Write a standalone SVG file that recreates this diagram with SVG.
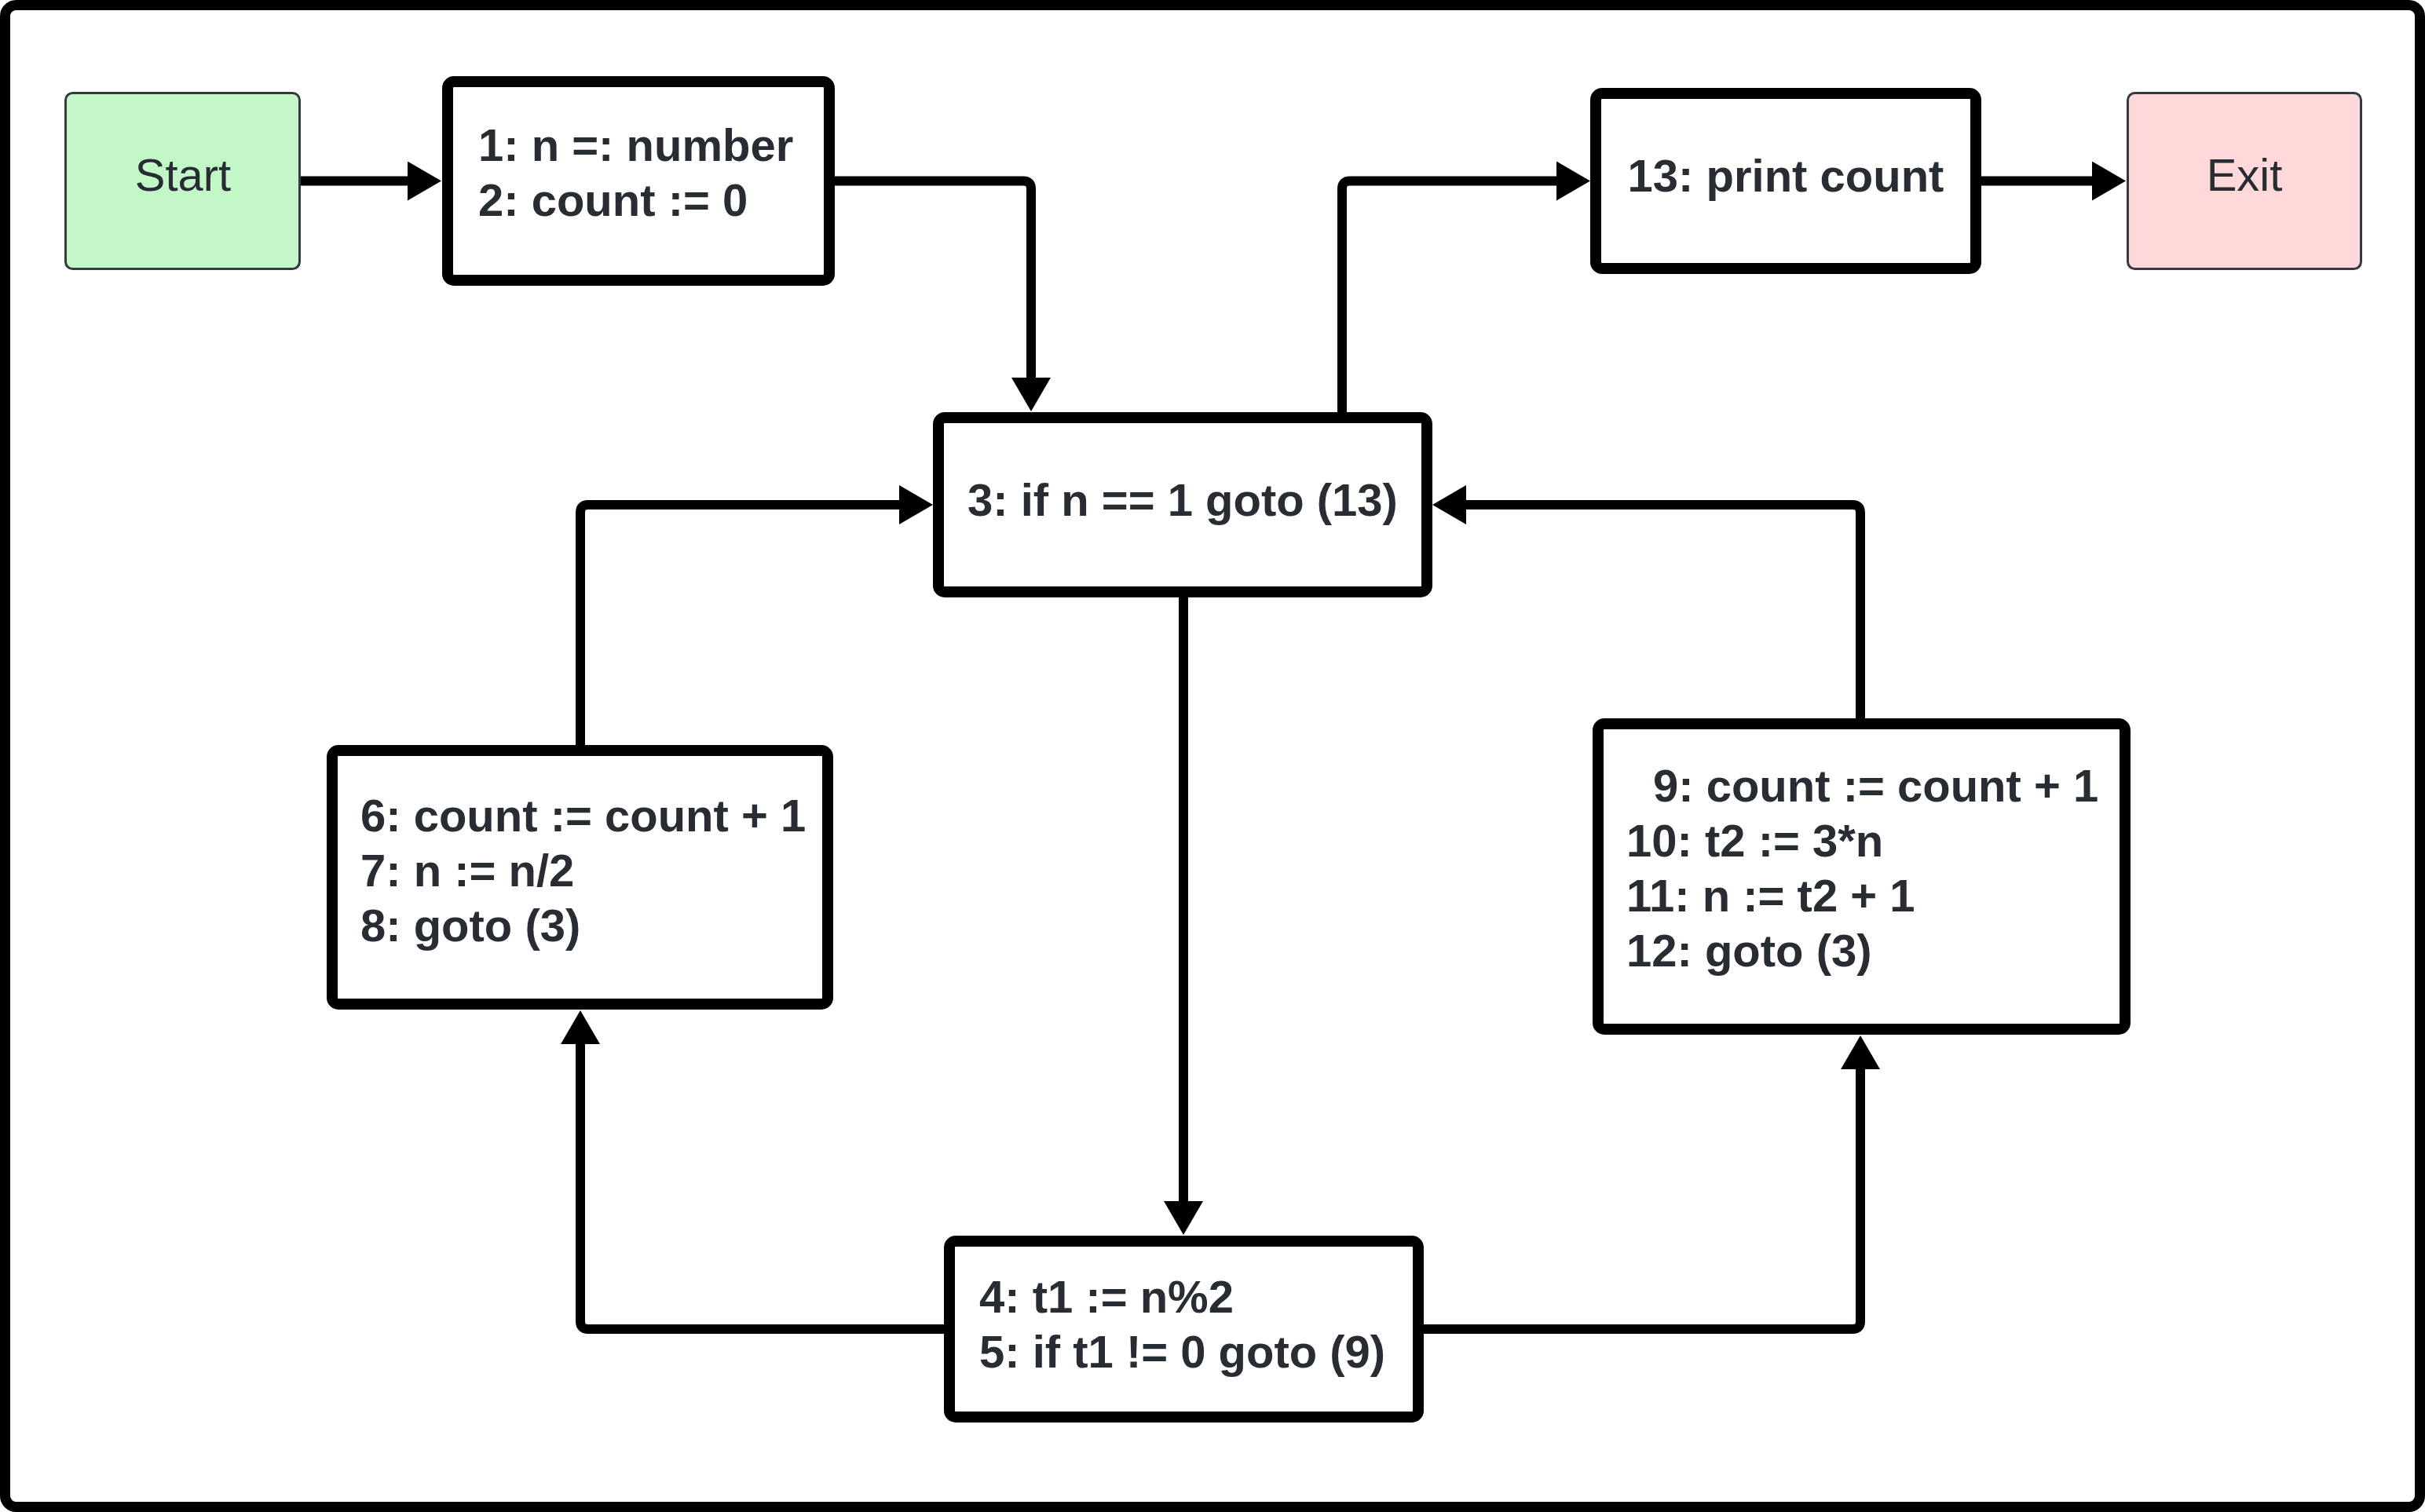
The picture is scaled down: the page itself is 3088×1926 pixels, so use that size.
<svg xmlns="http://www.w3.org/2000/svg" width="3088" height="1926" viewBox="0 0 3088 1926">
  <style>
    .frame { fill: #ffffff; stroke: #000000; stroke-width: 13; }
    .blk { fill: #ffffff; stroke: #000000; stroke-width: 14; }
    .term { stroke: #333a44; stroke-width: 3; }
    .code { font-family: "Liberation Sans", Arial, sans-serif; font-size: 58px; font-weight: bold; fill: #282c33; }
    .lbl { font-family: "Liberation Sans", Arial, sans-serif; font-size: 58px; fill: #282c33; }
    .conn { fill: none; stroke: #000000; stroke-width: 12; stroke-linejoin: round; }
  </style>
  <defs>
    <marker id="ah" markerUnits="userSpaceOnUse" viewBox="0 0 43 50" markerWidth="43" markerHeight="50" refX="0" refY="25" orient="auto">
      <path d="M0,0 L43,25 L0,50 z" fill="#000000"/>
    </marker>
  </defs>

  <rect class="frame" x="6.5" y="6.5" width="3075" height="1913" rx="14"/>

  <g id="connectors">
    <path class="conn" marker-end="url(#ah)" d="M383 230.5 H519"/>
    <path class="conn" marker-end="url(#ah)" d="M1063 230.5 H1303 Q1313 230.5 1313 240.5 V481"/>
    <path class="conn" marker-end="url(#ah)" d="M1709 525 V240.5 Q1709 230.5 1719 230.5 H1982"/>
    <path class="conn" marker-end="url(#ah)" d="M2523 230.5 H2664"/>
    <path class="conn" marker-end="url(#ah)" d="M1507 761 V1530"/>
    <path class="conn" marker-end="url(#ah)" d="M1202 1693 H749 Q739 1693 739 1683 V1330"/>
    <path class="conn" marker-end="url(#ah)" d="M739 949 V653 Q739 643 749 643 H1145"/>
    <path class="conn" marker-end="url(#ah)" d="M1813 1693 H2359 Q2369 1693 2369 1683 V1362"/>
    <path class="conn" marker-end="url(#ah)" d="M2369 915 V653 Q2369 643 2359 643 H1867"/>
  </g>

  <g id="start">
    <rect class="term" x="83.5" y="118.5" width="298" height="224" rx="9" fill="#c3f7c8"/>
    <text class="lbl" x="233" y="243" text-anchor="middle">Start</text>
  </g>

  <g id="block1">
    <rect class="blk" x="570" y="104" width="486" height="253" rx="8"/>
    <text class="code" x="609" y="205">1: n =: number</text>
    <text class="code" x="609" y="275">2: count := 0</text>
  </g>

  <g id="block13">
    <rect class="blk" x="2032" y="119" width="484" height="223" rx="8"/>
    <text class="code" x="2274" y="244" text-anchor="middle">13: print count</text>
  </g>

  <g id="exit">
    <rect class="term" x="2709.5" y="118.5" width="297" height="224" rx="9" fill="#ffd9d9"/>
    <text class="lbl" x="2858" y="243" text-anchor="middle">Exit</text>
  </g>

  <g id="block3">
    <rect class="blk" x="1195" y="532" width="622" height="222" rx="8"/>
    <text class="code" x="1506" y="657" text-anchor="middle">3: if n == 1 goto (13)</text>
  </g>

  <g id="block6">
    <rect class="blk" x="423" y="956" width="631" height="323" rx="8"/>
    <text class="code" x="459" y="1059">6: count := count + 1</text>
    <text class="code" x="459" y="1129">7: n := n/2</text>
    <text class="code" x="459" y="1199">8: goto (3)</text>
  </g>

  <g id="block9">
    <rect class="blk" x="2035" y="922" width="671" height="389" rx="8"/>
    <text class="code" x="2105" y="1021">9: count := count + 1</text>
    <text class="code" x="2071" y="1091">10: t2 := 3*n</text>
    <text class="code" x="2071" y="1161">11: n := t2 + 1</text>
    <text class="code" x="2071" y="1231">12: goto (3)</text>
  </g>

  <g id="block4">
    <rect class="blk" x="1209" y="1581" width="597" height="224" rx="8"/>
    <text class="code" x="1247" y="1672">4: t1 := n%2</text>
    <text class="code" x="1247" y="1742">5: if t1 != 0 goto (9)</text>
  </g>
</svg>
